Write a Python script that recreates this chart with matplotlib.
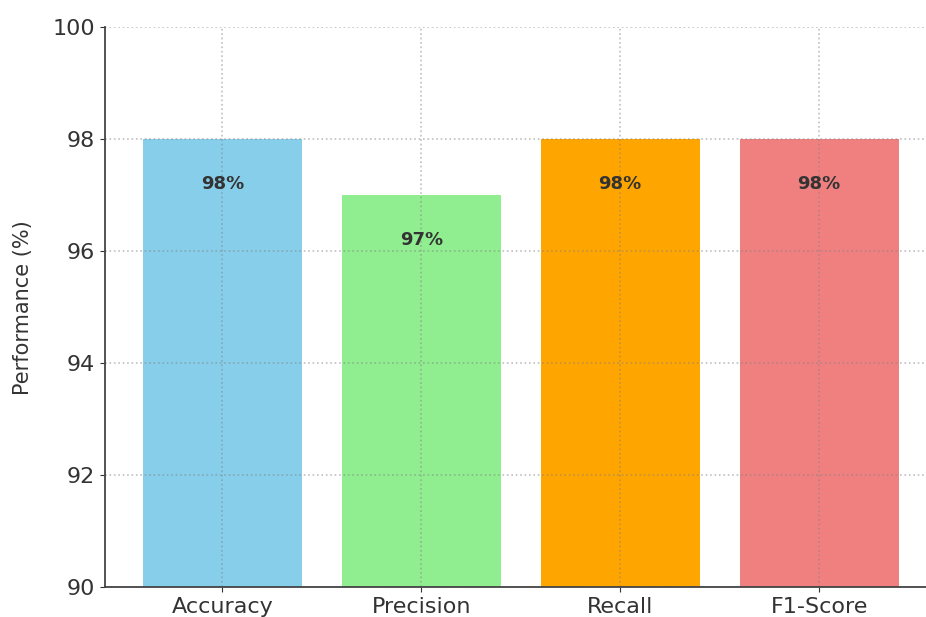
import matplotlib
matplotlib.use("Agg")
import matplotlib.pyplot as plt

# Dados do gráfico
metricas = ['Accuracy', 'Precision', 'Recall', 'F1-Score']
valores = [98, 97, 98, 98]
cores = ['skyblue', 'lightgreen', 'orange', 'lightcoral']

fig = plt.figure(figsize=(9.26, 6.17), dpi=100)
ax = fig.add_axes([0.1134, 0.0486, 0.898, 0.907])

barras = ax.bar(metricas, valores, color=cores, width=0.8)

# Rótulos dentro das barras
for b, v in zip(barras, valores):
    ax.text(b.get_x() + b.get_width() / 2, v - 0.8, f'{v}%',
            ha='center', va='center', fontsize=13, fontweight='bold', color='#333333')

ax.set_ylim(90, 100)
ax.set_ylabel('Performance (%)', fontsize=15, color='#333333', labelpad=14)
ax.tick_params(axis='y', labelsize=16, colors='#333333')
ax.tick_params(axis='x', labelsize=16, colors='#333333')
ax.grid(True, linestyle=':', color='gray', alpha=0.5, linewidth=1.2)
ax.spines['top'].set_visible(False)
ax.spines['right'].set_visible(False)
for s in ['left', 'bottom']:
    ax.spines[s].set_color('#444444')
    ax.spines[s].set_linewidth(1.3)

fig.savefig('out.png', dpi=100)
